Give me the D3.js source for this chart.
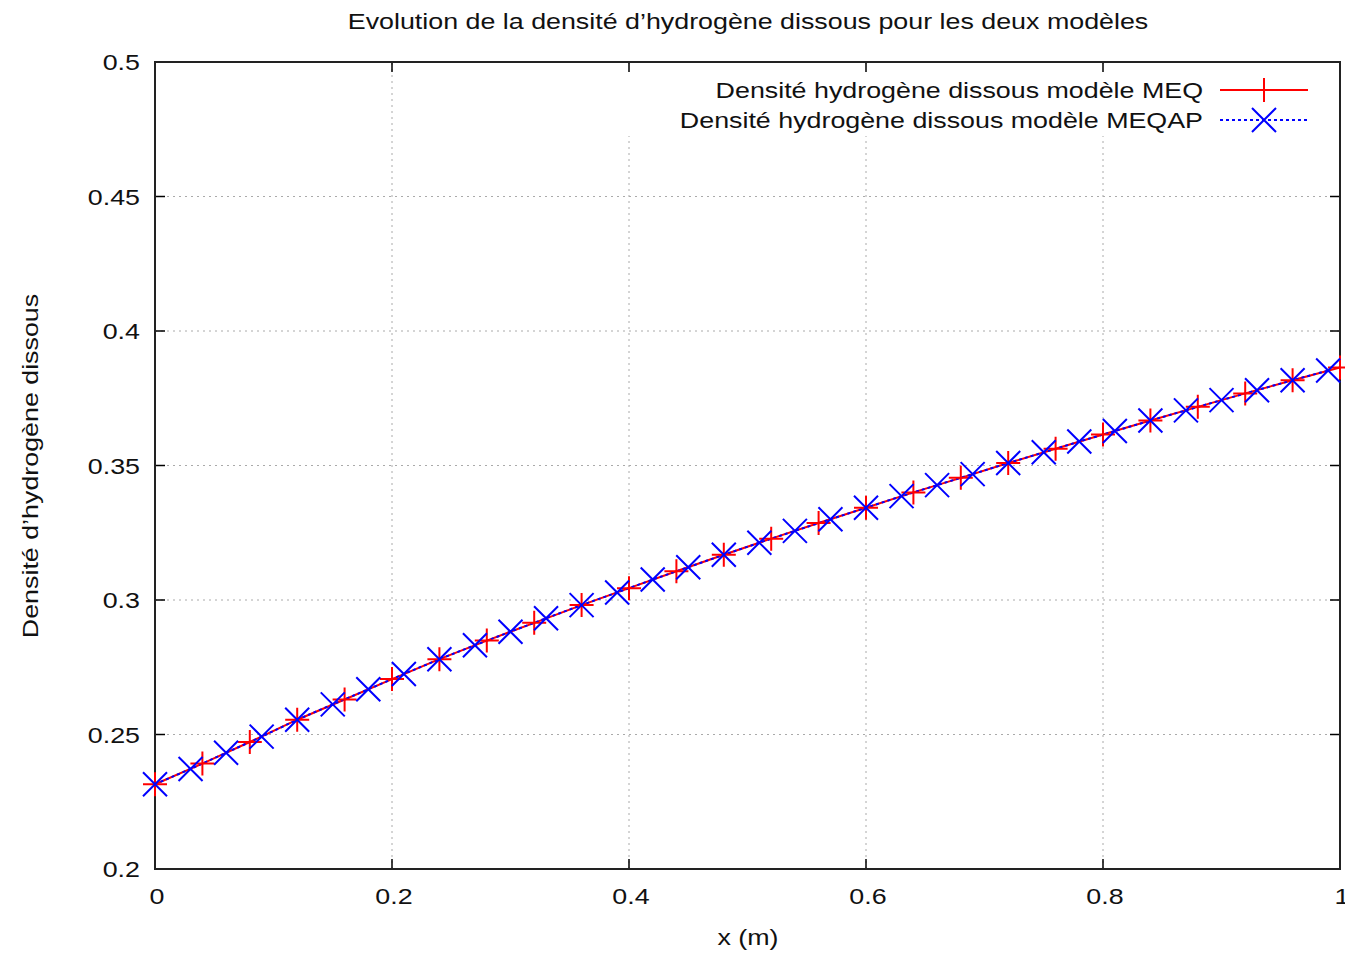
<!DOCTYPE html>
<html>
<head>
<meta charset="utf-8">
<script src="https://cdnjs.cloudflare.com/ajax/libs/d3/7.8.5/d3.min.js"></script>
<style>
  body { margin: 0; background: #fff; }
  svg { display: block; font-family: "Liberation Sans", Arial, sans-serif; }
</style>
</head>
<body>
<script>
// values
const xMEQ = [0, 0.04, 0.08, 0.12, 0.16, 0.2, 0.24, 0.28, 0.32, 0.36, 0.4, 0.44, 0.48,
  0.52, 0.56, 0.6, 0.64, 0.68, 0.72, 0.76, 0.8, 0.84, 0.88, 0.92, 0.96, 1.0];
const yMEQ = [0.2315, 0.2392, 0.2472, 0.2555, 0.2630, 0.2706, 0.2780, 0.2849, 0.2915,
  0.2981, 0.3044, 0.3107, 0.3168, 0.3228, 0.3286, 0.3343, 0.3400, 0.3454, 0.3509,
  0.3562, 0.3615, 0.3667, 0.3718, 0.3768, 0.3817, 0.3864];

const xMEQAP = [0, 0.03, 0.06, 0.09, 0.12, 0.15, 0.18, 0.21, 0.24, 0.27, 0.3, 0.33, 0.36,
  0.39, 0.42, 0.45, 0.48, 0.51, 0.54, 0.57, 0.6, 0.63, 0.66, 0.69, 0.72, 0.75, 0.78,
  0.81, 0.84, 0.87, 0.9, 0.93, 0.96, 0.99];
const yMEQAP = [0.2315, 0.2372, 0.2432, 0.2492, 0.2555, 0.2612, 0.2668, 0.2725, 0.2780,
  0.2832, 0.2882, 0.2932, 0.2981, 0.3028, 0.3076, 0.3122, 0.3168, 0.3213, 0.3257,
  0.3300, 0.3343, 0.3386, 0.3427, 0.3468, 0.3509, 0.3549, 0.3589, 0.3628, 0.3667,
  0.3705, 0.3743, 0.3780, 0.3817, 0.3853];

const xTicks = [0, 0.2, 0.4, 0.6, 0.8, 1];
const yTicks = [0.2, 0.25, 0.3, 0.35, 0.4, 0.45, 0.5];

const seriesNames = ["Densité hydrogène dissous modèle MEQ", "Densité hydrogène dissous modèle MEQAP"];
const title = "Evolution de la densité d’hydrogène dissous pour les deux modèles";

const width = 1345, height = 953;
const margin = {left: 155, right: 5, top: 62, bottom: 84};
const stretch = 1.22; // the reference text is set wide

const x = d3.scaleLinear().domain([0, 1]).range([margin.left, width - margin.right]);
const y = d3.scaleLinear().domain([0.2, 0.5]).range([height - margin.bottom, margin.top]);

const svg = d3.select("body").append("svg")
    .attr("width", width)
    .attr("height", height);

// wide text helper
function label(g, tx, ty, str, anchor, rot) {
  return g.append("text")
      .attr("transform", `translate(${tx},${ty})${rot ? ` rotate(${rot})` : ""} scale(${stretch},1)`)
      .attr("text-anchor", anchor)
      .attr("font-size", 22)
      .attr("fill", "#111")
      .text(str);
}

// grid
const grid = svg.append("g")
    .attr("stroke", "#aaa")
    .attr("stroke-width", 1)
    .attr("stroke-dasharray", "2,4");
grid.selectAll(".gx").data(xTicks.slice(1, -1)).join("line")
    .attr("x1", d => x(d)).attr("x2", d => x(d))
    .attr("y1", y(0.2)).attr("y2", y(0.5));
grid.selectAll(".gy").data(yTicks.slice(1, -1)).join("line")
    .attr("x1", x(0)).attr("x2", x(1))
    .attr("y1", d => y(d)).attr("y2", d => y(d));

// legend background hides the grid
svg.append("rect")
    .attr("x", 622).attr("y", y(0.5) + 2)
    .attr("width", x(1) - 622 - 2).attr("height", 72)
    .attr("fill", "#fff");

// ticks (mirrored on all sides)
const ticks = svg.append("g").attr("stroke", "#000").attr("stroke-width", 1.5);
const tl = 10;
xTicks.forEach(d => {
  ticks.append("line").attr("x1", x(d)).attr("x2", x(d)).attr("y1", y(0.2)).attr("y2", y(0.2) - tl);
  ticks.append("line").attr("x1", x(d)).attr("x2", x(d)).attr("y1", y(0.5)).attr("y2", y(0.5) + tl);
});
yTicks.forEach(d => {
  ticks.append("line").attr("x1", x(0)).attr("x2", x(0) + tl).attr("y1", y(d)).attr("y2", y(d));
  ticks.append("line").attr("x1", x(1)).attr("x2", x(1) - tl).attr("y1", y(d)).attr("y2", y(d));
});

// frame
svg.append("rect")
    .attr("x", x(0)).attr("y", y(0.5))
    .attr("width", x(1) - x(0)).attr("height", y(0.2) - y(0.5))
    .attr("fill", "none").attr("stroke", "#222").attr("stroke-width", 2);

// tick labels
const tickLabels = svg.append("g");
xTicks.forEach(d => label(tickLabels, x(d) + 2, y(0.2) + 35, d3.format("")(d), "middle"));
yTicks.forEach(d => label(tickLabels, x(0) - 15, y(d) + 8, d3.format("")(d), "end"));

// series
const meq = xMEQ.map((d, i) => [d, yMEQ[i]]);
const meqap = xMEQAP.map((d, i) => [d, yMEQAP[i]]);
const line = d3.line().x(d => x(d[0])).y(d => y(d[1]));

const plot = svg.append("g");
plot.append("path").datum(meq)
    .attr("d", line).attr("fill", "none")
    .attr("stroke", "#ff0000").attr("stroke-width", 2);
plot.append("path").datum(meqap)
    .attr("d", line).attr("fill", "none")
    .attr("stroke", "#0000ff").attr("stroke-width", 2)
    .attr("stroke-dasharray", "3,3");

const ms = 12;
const plusPath = `M${-ms},0H${ms}M0,${-ms}V${ms}`;
const crossPath = `M${-ms},${-ms}L${ms},${ms}M${-ms},${ms}L${ms},${-ms}`;

plot.selectAll(".plus").data(meq).join("path")
    .attr("transform", d => `translate(${x(d[0])},${y(d[1])})`)
    .attr("d", plusPath)
    .attr("stroke", "#ff0000").attr("stroke-width", 2).attr("fill", "none");
plot.selectAll(".cross").data(meqap).join("path")
    .attr("transform", d => `translate(${x(d[0])},${y(d[1])})`)
    .attr("d", crossPath)
    .attr("stroke", "#0000ff").attr("stroke-width", 2).attr("fill", "none");

// legend
const legend = svg.append("g");
const lx0 = 1220, lx1 = 1308;
[0, 1].forEach(i => {
  const ly = 90 + i * 30;
  label(legend, 1203, ly + 8, seriesNames[i], "end");
  legend.append("line")
      .attr("x1", lx0).attr("x2", lx1).attr("y1", ly).attr("y2", ly)
      .attr("stroke", i === 0 ? "#ff0000" : "#0000ff")
      .attr("stroke-width", 2)
      .attr("stroke-dasharray", i === 0 ? null : "3,3");
  legend.append("path")
      .attr("transform", `translate(${(lx0 + lx1) / 2},${ly})`)
      .attr("d", i === 0 ? plusPath : crossPath)
      .attr("stroke", i === 0 ? "#ff0000" : "#0000ff")
      .attr("stroke-width", 2).attr("fill", "none");
});

// titles
const titles = svg.append("g");
label(titles, 748, 29, title, "middle");
label(titles, 748, 945, "x (m)", "middle");
label(titles, 38, 466, "Densité d’hydrogène dissous", "middle", -90);
</script>
</body>
</html>
